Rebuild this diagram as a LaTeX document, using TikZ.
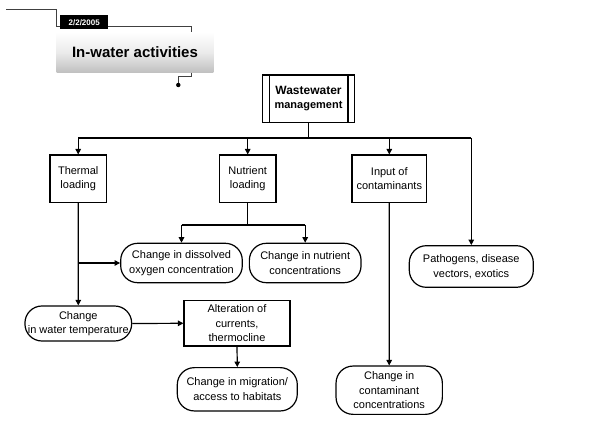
\documentclass[tikz,border=0pt]{standalone}
\usepackage{fontspec}
\setmainfont{Liberation Sans}
\usetikzlibrary{arrows.meta,calc}
\begin{document}
\begin{tikzpicture}[x=1pt,y=-1pt,
  every node/.style={font=\fontsize{11}{14.5}\selectfont, align=center, inner sep=1pt},
  sqbox/.style={draw, line width=1.2pt, rectangle},
  pill/.style={draw, line width=1.2pt, rectangle, rounded corners=17pt},
  conn/.style={line width=1.2pt},
  arr/.style={line width=1.2pt, -{Triangle[length=5.5pt,width=5.5pt]}},
  hdr/.style={line width=1pt, draw=black!75}
]
\useasboundingbox (0,0) rectangle (600,438);

% header
\coordinate (h0) at (6,10);
\coordinate (h1) at (56.7,10);
\coordinate (h2) at (56.7,26.7);
\coordinate (h3) at (191,26.7);
\coordinate (h4) at (191,76.7);
\coordinate (h5) at (178.3,76.7);
\coordinate (h6) at (178.3,85);
\draw[hdr] (h0) -- (h1) -- (h2) -- (h3) -- (191,33);
\node[rectangle, minimum width=156.6pt, minimum height=40.4pt, top color=white, bottom color=black!25, middle color=black!8, inner sep=0pt] (title) at (135,52.5)
  {\fontsize{15}{17}\selectfont\bfseries In-water activities};
\node[rectangle, fill=black, text=white, minimum width=48.3pt, minimum height=14.3pt, inner sep=0pt] (date) at (84.2,22.2)
  {\fontsize{8}{9}\selectfont\bfseries 2/2/2005};
\draw[hdr] (191,72.7) -- (h4) -- (h5) -- (h6);
\fill (h6) circle (2.2pt);

% nodes
\node[sqbox, minimum width=91.6pt, minimum height=47.3pt] (ww) at (308.5,98.7)
  {\fontsize{12}{15}\selectfont\bfseries Wastewater\\\bfseries management};
\draw[line width=1.2pt] ([xshift=7pt]ww.north west) -- ([xshift=7pt]ww.south west);
\draw[line width=1.2pt] ([xshift=-7pt]ww.north east) -- ([xshift=-7pt]ww.south east);

\node[sqbox, minimum width=56.3pt, minimum height=47.3pt] (thermal) at (78.2,178.7) {Thermal\\loading};
\node[sqbox, minimum width=56.7pt, minimum height=47.3pt] (nutrient) at (247.7,178.7) {Nutrient\\loading};
\node[sqbox, minimum width=74.7pt, minimum height=47.3pt] (input) at (389.3,178.7) {Input of\\contaminants};

\node[pill, minimum width=121.6pt, minimum height=39.4pt] (dissolved) at (181.5,263) {Change in dissolved\\oxygen concentration};
\node[pill, minimum width=111.7pt, minimum height=39.4pt] (nutconc) at (305.2,263) {Change in nutrient\\concentrations};
\node[pill, minimum width=124pt, minimum height=41.6pt] (pathogens) at (471.3,266.5) {Pathogens, disease\\vectors, exotics};
\node[pill, minimum width=106.7pt, minimum height=35pt, inner sep=0pt] (watertemp) at (78.3,323.5) {Change\\in water temperature};
\node[sqbox, minimum width=106pt, minimum height=45.3pt] (alteration) at (237,323.3) {Alteration of\\currents,\\thermocline};
\node[pill, minimum width=120pt, minimum height=43.3pt] (migration) at (237.3,389.3) {Change in migration/\\access to habitats};
\node[pill, minimum width=106.3pt, minimum height=48.3pt] (contam) at (389.2,390.2) {Change in\\contaminant\\concentrations};

% connectors
\coordinate (busL) at (78.2,138);
\coordinate (busR) at (471.3,138);
\coordinate (nsplit) at (247.7,225);
\draw[conn] (ww.south) -- (ww.south |- busL);
\draw[conn] (busL) -- (busR);
\draw[arr] (busL) -- (thermal.north);
\draw[arr] (nutrient.north |- busL) -- (nutrient.north);
\draw[arr] (input.north |- busL) -- (input.north);
\draw[arr] (busR) -- (pathogens.north);

\draw[conn] (nutrient.south) -- (nsplit);
\draw[conn] (dissolved.north |- nsplit) -- (nutconc.north |- nsplit);
\draw[arr] (dissolved.north |- nsplit) -- (dissolved.north);
\draw[arr] (nutconc.north |- nsplit) -- (nutconc.north);

\draw[arr] (thermal.south) -- (watertemp.north);
\draw[arr] (thermal.south |- dissolved.west) -- (dissolved.west);
\draw[arr] (watertemp.east) -- (alteration.west);
\draw[arr] (alteration.south) -- (migration.north);
\draw[arr] (input.south) -- (contam.north);
\end{tikzpicture}
\end{document}
